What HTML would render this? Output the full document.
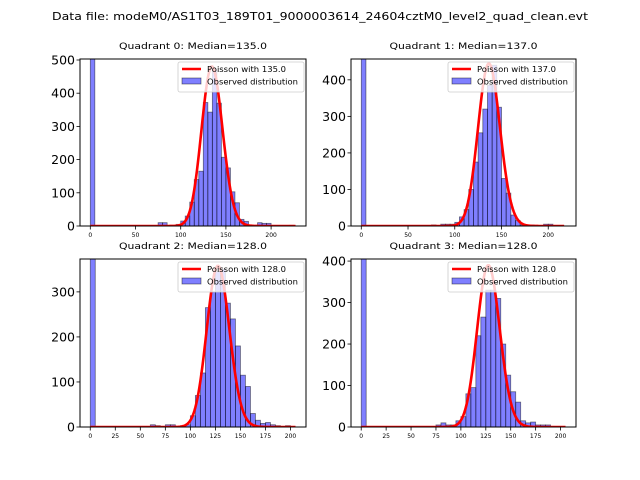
<!DOCTYPE html>
<html><head><meta charset="utf-8"><style>
body{margin:0;background:#fff}
svg{display:block;font-family:"DejaVu Sans","Liberation Sans",sans-serif}
</style></head><body>
<svg id="fig" width="640" height="480" viewBox="0 0 640 480">
<rect width="640" height="480" fill="#fff"/>
<text x="320" y="20" text-anchor="middle" font-size="11" textLength="536" lengthAdjust="spacingAndGlyphs">Data file: modeM0/AS1T03_189T01_9000003614_24604cztM0_level2_quad_clean.evt</text>
</svg>
<script>
// bin lower edges (width 5) and counts per quadrant
const binWidth = 5;
const q0Bins = [0,75,80,95,100,105,110,115,120,125,130,135,140,145,150,155,160,165,170,185,190,195,220];
const q0Counts = [520,10,10,5,15,30,72,140,165,372,343,470,370,207,175,103,70,20,14,10,8,8,2];
const q1Bins = [0,75,85,90,95,100,105,110,115,120,125,130,135,140,145,150,155,160,165,170,175,180,195,200];
const q1Counts = [470,3,5,5,5,10,25,45,100,175,255,320,385,440,325,130,90,30,15,3,3,3,5,5];
const q2Bins = [0,60,65,75,80,90,95,100,105,110,115,120,125,130,135,140,145,150,155,160,165,170,175,180,185,195];
const q2Counts = [380,5,3,5,5,3,5,25,70,120,265,300,345,350,275,240,180,115,90,30,15,8,10,5,3,3];
const q3Bins = [0,75,80,85,90,95,100,105,110,115,120,125,130,135,140,145,150,155,160,165,170,175,180,185];
const q3Counts = [410,5,10,5,5,15,25,80,95,220,265,330,330,310,200,125,85,60,15,10,12,5,5,5];
const medians = [135.0, 137.0, 128.0, 128.0];
const amplitudes = [14000, 13050, 10150, 11060];
const curveEnds = [227, 217, 205, 205];
const xlims = [[-11.4,238.6],[-11,229.7],[-10.25,215.5],[-10.25,215.5]];
const ylims = [[0,503],[0,457],[0,373],[0,405]];
const yTicks = [[0,100,200,300,400,500],[0,100,200,300,400],[0,100,200,300],[0,100,200,300,400]];
const xTicks = [[0,50,100,150,200],[0,50,100,150,200],[0,25,50,75,100,125,150,175,200],[0,25,50,75,100,125,150,175,200]];

const boxes=[{l:80,r:306,t:59,b:226},{l:351,r:576,t:59,b:226},{l:80,r:306,t:259,b:427},{l:351,r:576,t:259,b:427}];
const binsAll=[q0Bins,q1Bins,q2Bins,q3Bins], countsAll=[q0Counts,q1Counts,q2Counts,q3Counts];
const NS="http://www.w3.org/2000/svg", svg=document.getElementById('fig');
function mk(tag,attrs,parent){const e=document.createElementNS(NS,tag);for(const k in attrs)e.setAttribute(k,attrs[k]);(parent||svg).appendChild(e);return e;}
function logFact(k){let s=0;for(let i=2;i<=k;i++)s+=Math.log(i);return s;}
function pois(k,l){return Math.exp(k*Math.log(l)-l-logFact(k));}

for(let q=0;q<4;q++){
  const B=boxes[q],[x0,x1]=xlims[q],[y0,y1]=ylims[q];
  const X=v=>B.l+(v-x0)/(x1-x0)*(B.r-B.l);
  const Y=v=>B.b-(v-y0)/(y1-y0)*(B.b-B.t);
  const g=mk('g',{});
  
  
  const cid='clip'+q;
  const cp=mk('clipPath',{id:cid},g);mk('rect',{x:B.l,y:B.t,width:B.r-B.l,height:B.b-B.t},cp);
  const plot=mk('g',{'clip-path':'url(#'+cid+')'},g);
  binsAll[q].forEach((b,i)=>{
    const c=countsAll[q][i];
    const r=mk('rect',{x:X(b),y:Y(c),width:X(b+binWidth)-X(b),height:Y(0)-Y(c),fill:'rgba(0,0,255,0.5)',stroke:'rgba(0,0,0,0.5)','stroke-width':0.8},plot);
    
    
  });
  let d='';
  for(let k=0;k<=curveEnds[q];k++){d+=(k?'L':'M')+X(k).toFixed(2)+','+Y(amplitudes[q]*pois(k,medians[q])).toFixed(2);}
  const pl=mk('path',{d:d,fill:'none',stroke:'#ff0000','stroke-width':2.6},plot);
  
  
  mk('rect',{x:B.l,y:B.t,width:B.r-B.l,height:B.b-B.t,fill:'none',stroke:'#000','stroke-width':1},g);
  yTicks[q].forEach(t=>{
    mk('line',{x1:B.l-3.5,x2:B.l,y1:Y(t),y2:Y(t),stroke:'#000','stroke-width':0.8},g);
    const tx=mk('text',{x:B.l-5,y:Y(t)+4.5,'text-anchor':'end','font-size':12.5},g);tx.textContent=t;
    
    
  });
  xTicks[q].forEach(t=>{
    mk('line',{x1:X(t),x2:X(t),y1:B.b,y2:B.b+3.5,stroke:'#000','stroke-width':0.8},g);
    const tx=mk('text',{x:X(t),y:B.b+11,'text-anchor':'middle','font-size':6},g);tx.textContent=t;
    
    
  });
  const tt=mk('text',{x:(B.l+B.r)/2,y:B.t-10,'text-anchor':'middle','font-size':9,textLength:148,lengthAdjust:'spacingAndGlyphs'},g);
  tt.textContent='Quadrant '+q+': Median='+medians[q].toFixed(1);
  
  
  const lg=mk('g',{},g);
  
  
  const lx=B.r-128,ly=B.t+3;
  mk('rect',{x:lx,y:ly,width:126,height:30,rx:2,fill:'rgba(255,255,255,0.8)',stroke:'#ccc','stroke-width':0.8},lg);
  mk('line',{x1:lx+4,x2:lx+23,y1:ly+7,y2:ly+7,stroke:'#ff0000','stroke-width':2.6},lg);
  const t1=mk('text',{x:lx+29,y:ly+10,'font-size':7.5,textLength:79,lengthAdjust:'spacingAndGlyphs'},lg);t1.textContent='Poisson with '+medians[q].toFixed(1);
  mk('rect',{x:lx+4,y:ly+16,width:19,height:6,fill:'rgba(0,0,255,0.5)',stroke:'rgba(0,0,0,0.5)','stroke-width':0.8},lg);
  const t2=mk('text',{x:lx+29,y:ly+22.5,'font-size':7.5,textLength:91,lengthAdjust:'spacingAndGlyphs'},lg);t2.textContent='Observed distribution';
}
</script>
</body></html>
